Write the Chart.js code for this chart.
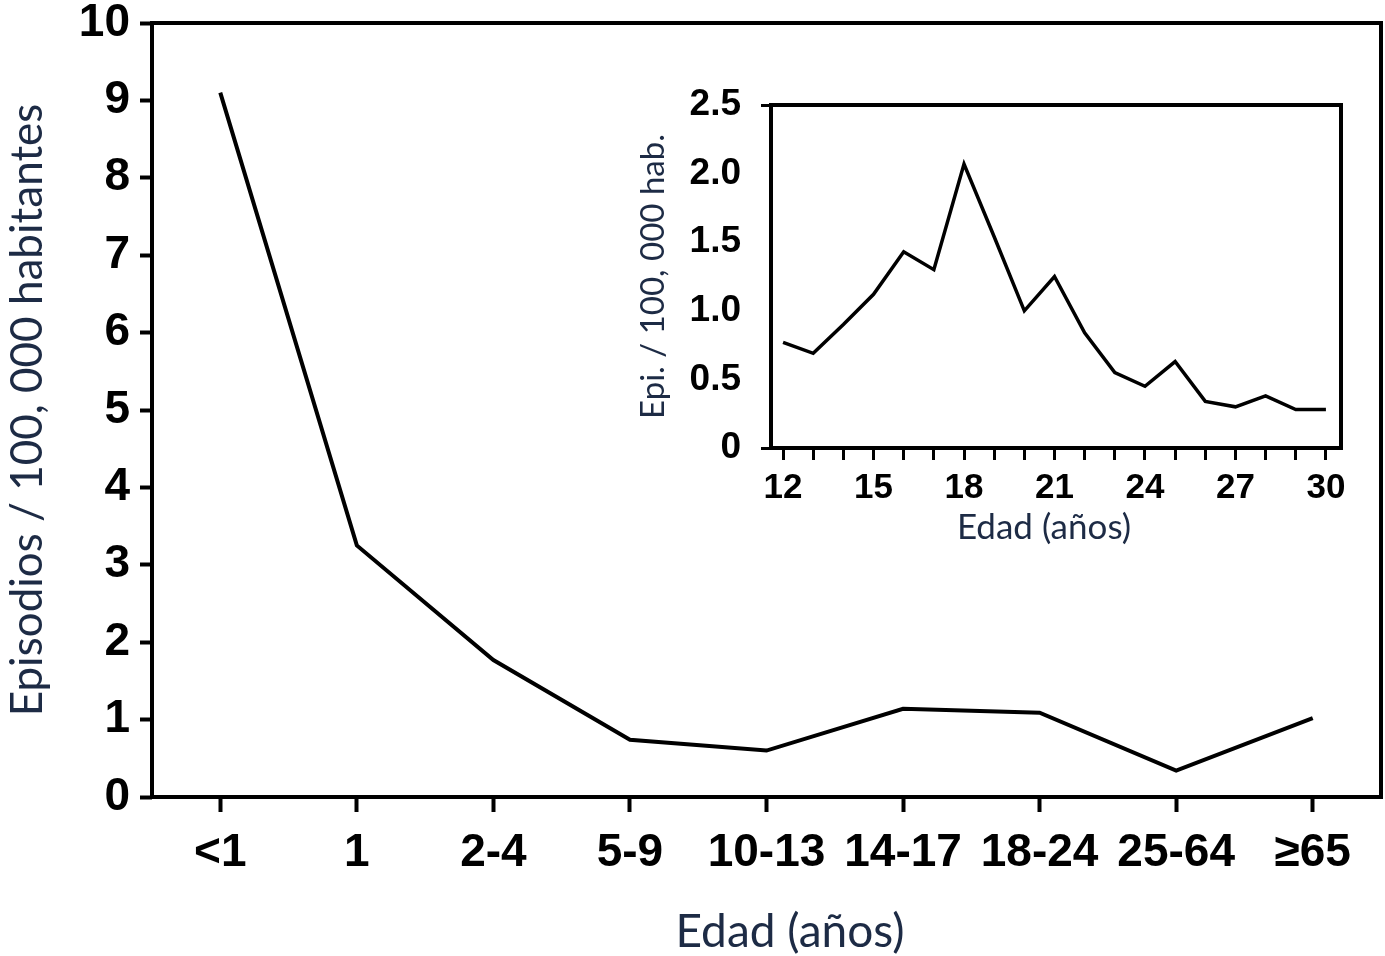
<!DOCTYPE html>
<html>
<head>
<meta charset="utf-8">
<script src="https://cdn.jsdelivr.net/npm/chart.js@4"></script>
<style>
  html, body { margin: 0; padding: 0; background: #fff; }
  #wrap { position: relative; width: 1385px; height: 956px; }
  #mainChart { position: absolute; left: 0; top: 0; }
  #insetChart { position: absolute; left: 600px; top: 80px; }
</style>
</head>
<body>
<div id="wrap">
  <canvas id="mainChart" width="1385" height="956"></canvas>
  <canvas id="insetChart" width="760" height="480"></canvas>
</div>
<script>
// datos del grafico principal
const grupos = ['<1', '1', '2-4', '5-9', '10-13', '14-17', '18-24', '25-64', '≥65'];
const episodios = [9.1, 3.25, 1.77, 0.74, 0.6, 1.14, 1.09, 0.34, 1.02];
const ejeYTicks = [0, 1, 2, 3, 4, 5, 6, 7, 8, 9, 10];

// datos del recuadro (12 a 30 años)
const edades = [12, 13, 14, 15, 16, 17, 18, 19, 20, 21, 22, 23, 24, 25, 26, 27, 28, 29, 30];
const episodiosEdad = [0.77, 0.69, 0.9, 1.12, 1.43, 1.3, 2.07, 1.54, 1.0, 1.25, 0.84, 0.55, 0.45, 0.63, 0.34, 0.3, 0.38, 0.28, 0.28];
const insetYTicks = [0, 0.5, 1, 1.5, 2, 2.5];
const insetXLabels = [12, 15, 18, 21, 24, 27, 30];

const colorTitulo = '#1d2b45';

// marco completo alrededor del area del grafico + titulo del eje x
const marco = {
    id: 'marco',
    afterDraw(chart, args, opts) {
        const {ctx, chartArea: a} = chart;
        ctx.save();
        ctx.strokeStyle = '#000';
        ctx.lineWidth = opts.width || 4;
        ctx.strokeRect(a.left, a.top, a.right - a.left, a.bottom - a.top);
        if (opts.xTitle) {
            ctx.fillStyle = colorTitulo;
            ctx.font = opts.xTitle.font;
            ctx.textAlign = 'center';
            ctx.textBaseline = 'middle';
            ctx.fillText(opts.xTitle.text, opts.xTitle.x, opts.xTitle.y);
        }
        ctx.restore();
    }
};

// Grafico principal
new Chart(document.getElementById('mainChart'), {
    type: 'line',
    data: {
        labels: grupos,
        datasets: [{
            data: episodios,
            borderColor: '#000',
            borderWidth: 4,
            pointRadius: 0,
            tension: 0,
            fill: false
        }]
    },
    options: {
        responsive: false,
        animation: false,
        layout: { padding: { top: 23, right: 4, left: 0, bottom: 0 } },
        plugins: {
            legend: { display: false },
            tooltip: { enabled: false },
            marco: {
                width: 4,
                xTitle: { text: 'Edad (años)', x: 790, y: 932, font: '46px Lato' }
            }
        },
        scales: {
            x: {
                offset: true,
                grid: { offset: false, drawOnChartArea: false, drawTicks: true, tickLength: 15, tickWidth: 4, tickColor: '#000' },
                border: { display: false },
                ticks: {
                    color: '#000',
                    padding: 18,
                    autoSkip: false,
                    maxRotation: 0,
                    font: { family: 'Liberation Sans', size: 46, weight: 'bold', lineHeight: 1 }
                },
                afterFit: s => { s.height = 159; }
            },
            y: {
                min: 0,
                max: 10,
                afterBuildTicks: s => { s.ticks = ejeYTicks.map(v => ({ value: v })); },
                grid: { drawOnChartArea: false, drawTicks: true, tickLength: 12, tickWidth: 4, tickColor: '#000' },
                border: { display: false },
                ticks: {
                    color: '#000',
                    padding: 10,
                    font: { family: 'Liberation Sans', size: 46, weight: 'bold', lineHeight: 0.2 }
                },
                title: {
                    display: true,
                    text: 'Episodios / 100, 000 habitantes',
                    color: colorTitulo,
                    padding: { top: 1 },
                    font: { family: 'Lato', size: 44 }
                },
                afterFit: s => { s.width = 152; }
            }
        }
    },
    plugins: [marco]
});

// Recuadro 12-30 años
new Chart(document.getElementById('insetChart'), {
    type: 'line',
    data: {
        datasets: [{
            data: edades.map((e, i) => ({ x: e, y: episodiosEdad[i] })),
            borderColor: '#000',
            borderWidth: 3.5,
            pointRadius: 0,
            tension: 0,
            fill: false
        }]
    },
    options: {
        responsive: false,
        animation: false,
        layout: { padding: { top: 25, right: 19, left: 0, bottom: 0 } },
        plugins: {
            legend: { display: false },
            tooltip: { enabled: false },
            marco: {
                width: 4,
                xTitle: { text: 'Edad (años)', x: 444, y: 448, font: '35px Lato' }
            }
        },
        scales: {
            x: {
                type: 'linear',
                min: 11.6,
                max: 30.5,
                afterBuildTicks: s => { s.ticks = edades.map(v => ({ value: v })); },
                grid: { drawOnChartArea: false, drawTicks: true, tickLength: 12, tickWidth: 3, tickColor: '#000' },
                border: { display: false },
                ticks: {
                    color: '#000',
                    padding: 11,
                    autoSkip: false,
                    maxRotation: 0,
                    font: { family: 'Liberation Sans', size: 35, weight: 'bold', lineHeight: 1 },
                    callback: v => insetXLabels.includes(v) ? String(v) : ''
                },
                afterFit: s => { s.height = 112; }
            },
            y: {
                min: 0,
                max: 2.5,
                afterBuildTicks: s => { s.ticks = insetYTicks.map(v => ({ value: v })); },
                grid: {
                    drawOnChartArea: false, drawTicks: true, tickLength: 10, tickWidth: 3,
                    tickColor: c => (c.tick && (c.tick.value === 0 || c.tick.value === 2.5)) ? '#000' : 'rgba(0,0,0,0)'
                },
                border: { display: false },
                ticks: {
                    color: '#000',
                    padding: 20,
                    font: { family: 'Liberation Sans', size: 37, weight: 'bold', lineHeight: 0.2 },
                    callback: v => v === 0 ? '0' : v.toFixed(1)
                },
                title: {
                    display: true,
                    text: 'Epi. / 100, 000 hab.',
                    color: colorTitulo,
                    padding: { top: 34 },
                    font: { family: 'Lato', size: 33 }
                },
                afterFit: s => { s.width = 171; }
            }
        }
    },
    plugins: [marco]
});
</script>
</body>
</html>
